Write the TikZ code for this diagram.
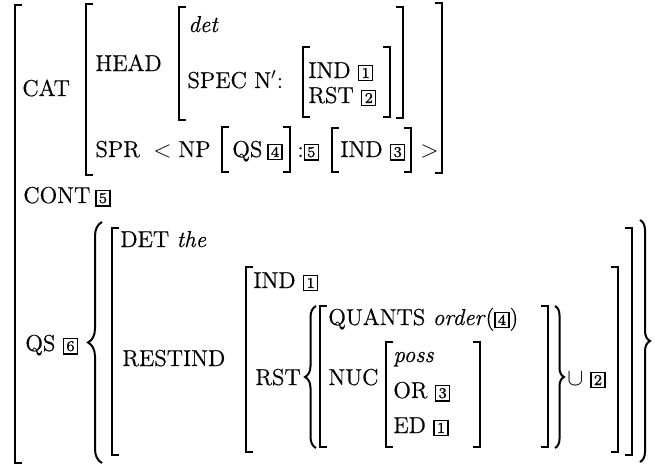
\documentclass[tikz,border=0pt]{standalone}
\usepackage{fontspec}
\setmainfont{Latin Modern Roman}[FakeBold=0.6]
\usetikzlibrary{decorations.pathreplacing}
\newcommand\bx[1]{{\setlength\fboxsep{1pt}\setlength\fboxrule{0.6pt}\fbox{\makebox[4.4pt]{\fontsize{7.5}{7.5}\selectfont #1}}}}
\newcommand\LBr[3]{\draw[brk] (#1+7,#2) -- (#1,#2) -- (#1,#3) -- (#1+7,#3);}
\newcommand\RBr[3]{\draw[brk] (#1-7,#2) -- (#1,#2) -- (#1,#3) -- (#1-7,#3);}
\begin{document}
\begin{tikzpicture}[x=0.5pt,y=-0.5pt,
  txt/.style={inner sep=0pt,anchor=base west,font=\fontsize{11.5}{14}\selectfont},
  brk/.style={line width=1.05pt},
  brc/.style={line width=1pt,decorate,decoration={brace,amplitude=#1}}]
\useasboundingbox (0,0) rectangle (655,466);
% texts
\node[txt] (cat) at (22,96) {CAT};
\node[txt] (head) at (95,71) {HEAD};
\node[txt] (det) at (188,32) {\textit{det}};
\node[txt] (spec) at (187,88) {SPEC N$'$:};
\node[txt] (ind1) at (308,78) {IND \bx{1}};
\node[txt] (rst2) at (308,103) {RST \bx{2}};
\node[txt] (spr) at (95,157) {SPR};
\node[txt] (lt) at (153,157) {$<$};
\node[txt] (np) at (178,157) {NP};
\node[txt] (qs4) at (232,157) {QS\hspace{2.5pt}\bx{4}};
\node[txt] (colon) at (297,157) {:\bx{5}};
\node[txt] (ind3) at (340,157) {IND \bx{3}};
\node[txt] (gt) at (420,157) {$>$};
\node[txt] (cont) at (23,203) {CONT\hspace{2.5pt}\bx{5}};
\node[txt] (detthe) at (120,247) {DET \textit{the}};
\node[txt] (qs6) at (25,351) {QS \bx{6}};
\node[txt] (restind) at (122,366) {RESTIND};
\node[txt] (ind1b) at (253,288) {IND \bx{1}};
\node[txt] (rst) at (255,385) {RST};
\node[txt] (quants) at (328,325) {QUANTS \textit{order}(\bx{4})};
\node[txt] (nuc) at (328,385) {NUC};
\node[txt] (poss) at (393,362) {\textit{poss}};
\node[txt] (or3) at (393,398) {OR \bx{3}};
\node[txt] (ed1) at (393,433) {ED \bx{1}};
\node[txt] (cup) at (567,385) {$\cup$};
\node[txt] (box2) at (590,385) {\bx{2}};
% brackets
\LBr{15}{5}{463}
\LBr{86}{4}{175} \RBr{442}{3}{173}
\LBr{179}{7}{120} \RBr{403}{7}{118}
\LBr{303}{47}{117} \RBr{390}{47}{117}
\LBr{222}{127}{172} \RBr{290}{127}{172}
\LBr{332}{128}{172} \RBr{411}{128}{172}
\LBr{112}{228}{455} \RBr{632}{228}{455}
\LBr{246}{267}{452} \RBr{618}{267}{452}
\LBr{320}{306}{447} \RBr{548}{306}{447}
\LBr{386}{342}{447} \RBr{480}{342}{447}
% braces
\draw[brc=7pt] (102,463) -- (102,222);
\draw[brc=5.5pt] (316,448) -- (316,306);
\draw[brc=4.5pt] (555,306) -- (555,448);
\draw[brc=5pt] (640,220) -- (640,462);
\end{tikzpicture}
\end{document}
